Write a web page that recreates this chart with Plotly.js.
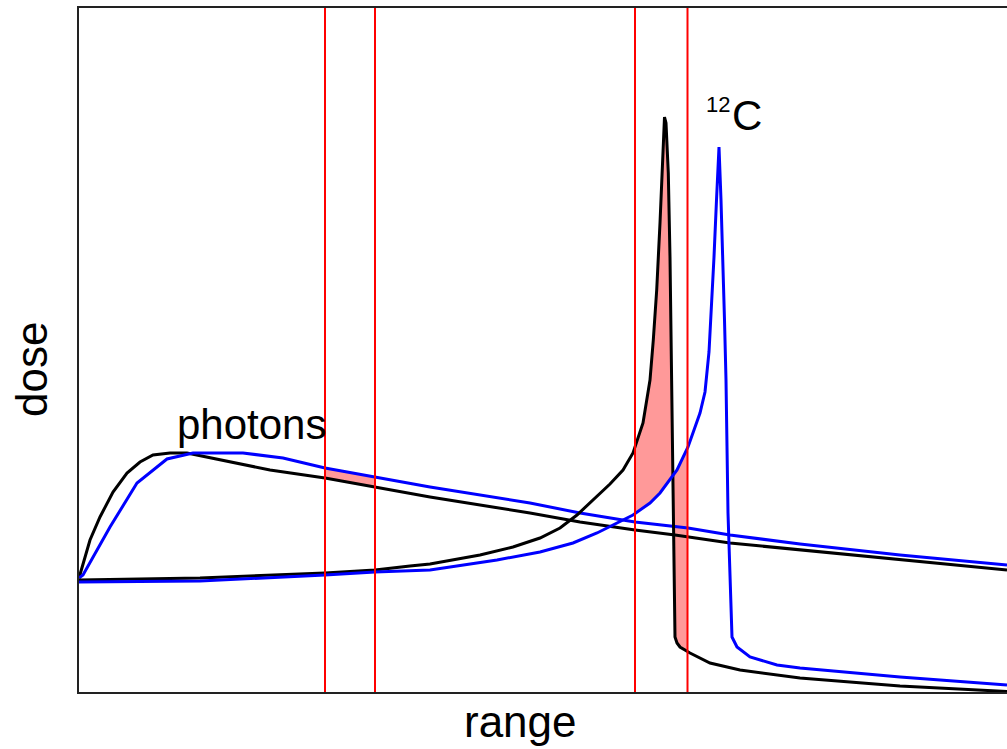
<!DOCTYPE html>
<html>
<head>
<meta charset="utf-8">
<script src="https://cdn.plot.ly/plotly-3.0.1.min.js"></script>
<style>html,body{margin:0;padding:0;background:#fff;}#chart{width:1007px;height:749px;}</style>
</head>
<body>
<div id="chart"></div>
<script>
// Depth (range) and dose values (arbitrary units)
const photonBlackX = [0, 11, 21, 34, 48, 61, 74, 91, 108, 141, 191, 246, 296, 351, 451, 501, 556, 596, 651, 721, 821, 928];
const photonBlackY = [114, 152, 175, 200, 219, 230, 237, 239, 239, 232, 222, 214, 205, 195, 179, 170, 162, 157, 149, 142, 132, 122];

const photonBlueX = [0, 4, 31, 58, 88, 114, 164, 204, 246, 296, 351, 451, 501, 556, 609, 651, 721, 821, 928];
const photonBlueY = [114, 117, 165, 209, 233, 239, 239, 234, 224, 215, 205, 189, 179, 170, 164, 157, 148, 137, 127];

const carbonBlackX = [0, 121, 246, 296, 331, 351, 401, 434, 461, 481, 498, 514, 531, 544, 554, 564, 571, 574.3, 577.7, 581, 583.7, 585.5, 587, 589.3, 591, 592, 593, 594, 594.5, 595.5, 596, 598, 601, 611, 631, 661, 721, 821, 928];
const carbonBlackY = [112, 114, 119, 122, 126, 128, 137, 145, 154, 164, 177, 192, 208, 222, 239, 269, 312, 352, 402, 469, 535, 575, 569, 519, 435, 362, 292, 222, 179, 92, 55, 49, 45, 39, 29, 22, 14, 6, 0.5];

const carbonBlueX = [0, 121, 246, 296, 351, 418, 461, 494, 518, 538, 554, 571, 581, 598, 609, 621, 626, 630, 633, 635, 637.5, 640, 642, 644, 645.5, 647, 649, 653, 658, 671, 698, 721, 821, 928];
const carbonBlueY = [110, 111, 117, 120, 122, 132, 140, 149, 159, 169, 177, 189, 199, 222, 245, 279, 300, 340, 395, 435, 492, 545, 492, 435, 372, 312, 179, 55, 45, 35, 27, 24, 15, 7];

const redLineX = [246, 296, 556, 608.5];
const photonBand = [246, 296];
const carbonBand = [556, 608.5];

const xMax = 928, yMax = 684;

function interp(xs, ys, x) {
  if (x <= xs[0]) return ys[0];
  for (let i = 0; i < xs.length - 1; i++) {
    if (x >= xs[i] && x <= xs[i + 1]) {
      const t = (x - xs[i]) / (xs[i + 1] - xs[i]);
      return ys[i] + t * (ys[i + 1] - ys[i]);
    }
  }
  return ys[ys.length - 1];
}
function band(xa, ya, xb, yb, lo, hi) {
  let grid = [lo, hi];
  xa.concat(xb).forEach(v => { if (v > lo && v < hi) grid.push(v); });
  grid = Array.from(new Set(grid)).sort((a, b) => a - b);
  const px = [], py = [];
  grid.forEach(g => { px.push(g); py.push(interp(xa, ya, g)); });
  grid.slice().reverse().forEach(g => { px.push(g); py.push(interp(xb, yb, g)); });
  px.push(px[0]); py.push(py[0]);
  return {x: px, y: py};
}

const fillColor = 'rgba(255,0,0,0.4)';
const b1 = band(photonBlueX, photonBlueY, photonBlackX, photonBlackY, photonBand[0], photonBand[1]);
const b2 = band(carbonBlackX, carbonBlackY, carbonBlueX, carbonBlueY, carbonBand[0], carbonBand[1]);

const lw = 3;
const traces = [
  {x: b1.x, y: b1.y, mode: 'lines', fill: 'toself', fillcolor: fillColor, line: {width: 0}, hoverinfo: 'skip'},
  {x: b2.x, y: b2.y, mode: 'lines', fill: 'toself', fillcolor: fillColor, line: {width: 0}, hoverinfo: 'skip'},
  {x: photonBlackX, y: photonBlackY, mode: 'lines', line: {color: '#000000', width: lw}},
  {x: photonBlueX, y: photonBlueY, mode: 'lines', line: {color: '#0000ff', width: lw}},
  {x: carbonBlackX, y: carbonBlackY, mode: 'lines', line: {color: '#000000', width: lw}},
  {x: carbonBlueX, y: carbonBlueY, mode: 'lines', line: {color: '#0000ff', width: lw}}
];
redLineX.forEach(rx => {
  traces.push({x: [rx, rx], y: [0, yMax], mode: 'lines', line: {color: '#ff0000', width: 2}, hoverinfo: 'skip'});
});

const font = 'Liberation Sans, Arial, sans-serif';
const layout = {
  width: 1007, height: 749,
  margin: {l: 79, r: 0, t: 8, b: 57},
  paper_bgcolor: '#ffffff', plot_bgcolor: '#ffffff',
  showlegend: false,
  xaxis: {range: [0, xMax], showgrid: false, zeroline: false, showticklabels: false, ticks: '',
          showline: true, mirror: true, linecolor: '#222', linewidth: 2},
  yaxis: {range: [0, yMax], showgrid: false, zeroline: false, showticklabels: false, ticks: '',
          showline: true, mirror: false, linecolor: '#222', linewidth: 2},
  annotations: [
    {text: 'photons', x: 172, y: 268, xref: 'x', yref: 'y', showarrow: false, xanchor: 'center', yanchor: 'middle',
     font: {family: font, size: 42, color: '#000'}},
    {text: 'C', x: 651, y: 577, xref: 'x', yref: 'y', showarrow: false, xanchor: 'left', yanchor: 'middle',
     font: {family: font, size: 42, color: '#000'}},
    {text: '12', x: 653, y: 588, xref: 'x', yref: 'y', showarrow: false, xanchor: 'right', yanchor: 'middle',
     font: {family: font, size: 22, color: '#000'}},
    {text: 'range', x: 0.476, y: -0.004, xref: 'paper', yref: 'paper', showarrow: false, xanchor: 'center', yanchor: 'top',
     font: {family: font, size: 44, color: '#000'}},
    {text: 'dose', x: -0.0805, y: 0.472, xref: 'paper', yref: 'paper', showarrow: false, xanchor: 'left', yanchor: 'middle',
     textangle: -90, font: {family: font, size: 44, color: '#000'}}
  ]
};
Plotly.newPlot('chart', traces, layout, {staticPlot: true, displayModeBar: false});
</script>
</body>
</html>
